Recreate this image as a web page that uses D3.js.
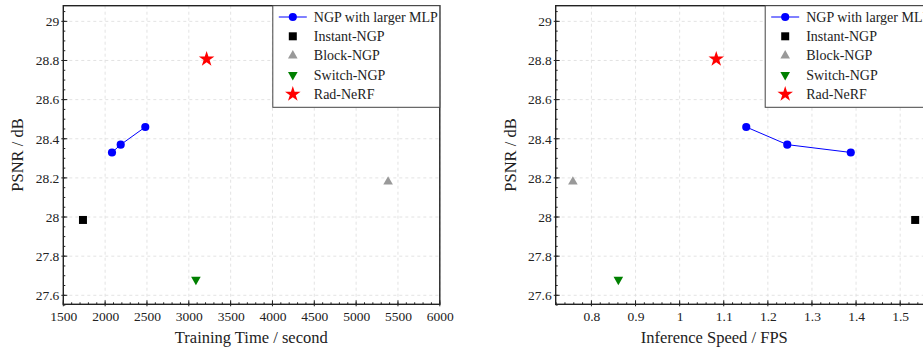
<!DOCTYPE html>
<html>
<head>
<meta charset="utf-8">
<script src="https://cdn.jsdelivr.net/npm/d3@7"></script>
<style>
  body { margin: 0; background: #fff; }
  svg text { font-family: "Liberation Serif", "Times New Roman", serif; }
</style>
</head>
<body>
<svg id="chart" width="923" height="347"></svg>
<script>
// data
const seriesNames = ["NGP with larger MLP", "Instant-NGP", "Block-NGP", "Switch-NGP", "Rad-NeRF"];
const mlpPsnr = [28.33, 28.37, 28.46];
const mlpTrainTime = [2082, 2186, 2480];
const mlpFps = [1.388, 1.244, 1.151];
const otherPsnr = [27.985, 28.18, 27.68, 28.807];        // instant, block, switch, rad
const otherTrainTime = [1735, 5382, 3085, 3213];
const otherFps = [1.534, 0.758, 0.861, 1.083];
const psnrTicks = [27.6, 27.8, 28, 28.2, 28.4, 28.6, 28.8, 29];
const timeTicks = [1500, 2000, 2500, 3000, 3500, 4000, 4500, 5000, 5500, 6000];
const fpsTicks = [0.8, 0.9, 1, 1.1, 1.2, 1.3, 1.4, 1.5];

const colors = ["#0000ff", "#000000", "#999999", "#008000", "#ff0000"];
const serif = "'Liberation Serif', 'Times New Roman', serif";

const svg = d3.select("#chart");

function symbolPath(i) {
  if (i === 1) return d3.symbol(d3.symbolSquare, 64)();
  if (i === 2) return d3.symbol(d3.symbolTriangle, 40)();
  if (i === 3) return d3.symbol(d3.symbolTriangle, 40)();
  if (i === 4) return d3.symbol(d3.symbolStar, 75)();
  return d3.symbol(d3.symbolCircle, 52)();
}
function symbolRot(i) { return i === 3 ? " rotate(180)" : ""; }

function drawPanel(cfg) {
  const w = 376.5, h = 298.6;
  const g = svg.append("g").attr("transform", `translate(${cfg.left},5.7)`);

  const x = d3.scaleLinear().domain(cfg.xDomain).range([0, w]);
  const y = d3.scaleLinear().domain([27.554, 29.08]).range([h, 0]);

  // grid
  g.append("g").selectAll("line").data(cfg.xTicks).join("line")
    .attr("x1", d => x(d)).attr("x2", d => x(d)).attr("y1", 0).attr("y2", h)
    .attr("stroke", "#dcdcdc").attr("stroke-dasharray", "3,3").attr("stroke-width", 0.8);
  g.append("g").selectAll("line").data(psnrTicks).join("line")
    .attr("y1", d => y(d)).attr("y2", d => y(d)).attr("x1", 0).attr("x2", w)
    .attr("stroke", "#dcdcdc").attr("stroke-dasharray", "3,3").attr("stroke-width", 0.8);

  // axes (major ticks crossing, minor inward)
  const xAxis = g.append("g").attr("transform", `translate(0,${h})`)
    .call(d3.axisBottom(x).tickValues(cfg.xTicks).tickSize(0).tickPadding(7).tickFormat(d3.format("")));
  const yAxis = g.append("g")
    .call(d3.axisLeft(y).tickValues(psnrTicks).tickSize(0).tickPadding(4).tickFormat(d3.format("")));
  [xAxis, yAxis].forEach(a => {
    a.attr("font-family", serif).attr("font-size", 13.5);
    a.select(".domain").remove();
    a.selectAll("text").attr("fill", "#222");
  });

  const xMinor = d3.range(cfg.xDomain[0], cfg.xDomain[1] + 1e-9, cfg.xMinorStep)
    .map(v => Math.round(v / cfg.xMinorStep) * cfg.xMinorStep)
    .filter(v => v >= cfg.xDomain[0] && v <= cfg.xDomain[1]);
  g.append("g").selectAll("line").data(xMinor).join("line")
    .attr("x1", d => x(d)).attr("x2", d => x(d)).attr("y1", h).attr("y2", h - 2)
    .attr("stroke", "#222");
  g.append("g").selectAll("line").data(cfg.xTicks).join("line")
    .attr("x1", d => x(d)).attr("x2", d => x(d)).attr("y1", h + 2).attr("y2", h - 4)
    .attr("stroke", "#222");
  const yMinor = d3.range(27.55, 29.08, 0.05).map(v => +v.toFixed(2));
  g.append("g").selectAll("line").data(yMinor).join("line")
    .attr("y1", d => y(d)).attr("y2", d => y(d)).attr("x1", 0).attr("x2", 2)
    .attr("stroke", "#222");
  g.append("g").selectAll("line").data(psnrTicks).join("line")
    .attr("y1", d => y(d)).attr("y2", d => y(d)).attr("x1", -2).attr("x2", 4)
    .attr("stroke", "#222");

  // frame
  g.append("rect").attr("width", w).attr("height", h)
    .attr("fill", "none").attr("stroke", "#222").attr("stroke-width", 1.4);

  // blue series
  const mlp = cfg.mlpX.map((v, i) => [v, mlpPsnr[i]]);
  g.append("path").datum(mlp)
    .attr("d", d3.line().x(d => x(d[0])).y(d => y(d[1])))
    .attr("fill", "none").attr("stroke", colors[0]).attr("stroke-width", 1);
  g.append("g").selectAll("path").data(mlp).join("path")
    .attr("d", symbolPath(0))
    .attr("transform", d => `translate(${x(d[0])},${y(d[1])})`)
    .attr("fill", colors[0]);

  // single-point methods
  cfg.otherX.forEach((v, i) => {
    g.append("path")
      .attr("d", symbolPath(i + 1))
      .attr("transform", `translate(${x(v)},${y(otherPsnr[i])})${symbolRot(i + 1)}`)
      .attr("fill", colors[i + 1]);
  });

  // legend
  const lw = 167, lh = 101.6;
  const lg = g.append("g").attr("transform", `translate(${w - lw},0)`);
  lg.append("rect").attr("width", lw).attr("height", lh)
    .attr("fill", "#fff").attr("stroke", "#444").attr("stroke-width", 1);
  seriesNames.forEach((name, i) => {
    const cy = 11.3 + i * 19.3;
    const row = lg.append("g").attr("transform", `translate(0,${cy})`);
    if (i === 0) {
      row.append("line").attr("x1", 6).attr("x2", 34)
        .attr("stroke", colors[0]).attr("stroke-width", 1);
    }
    row.append("path").attr("d", symbolPath(i))
      .attr("transform", `translate(20,0)${symbolRot(i)}`)
      .attr("fill", colors[i]);
    row.append("text").attr("x", 41).attr("y", 4.8)
      .attr("font-family", serif).attr("font-size", 14).attr("fill", "#222").text(name);
  });

  // axis titles
  svg.append("text")
    .attr("transform", `translate(${cfg.left - 40},155) rotate(-90)`)
    .attr("text-anchor", "middle").attr("font-family", serif).attr("font-size", 16.5).attr("fill", "#222")
    .text("PSNR / dB");
  svg.append("text")
    .attr("x", cfg.left + cfg.titleCx).attr("y", 343)
    .attr("text-anchor", "middle").attr("font-family", serif).attr("font-size", 16.5).attr("fill", "#222")
    .text(cfg.xTitle);
}

drawPanel({
  left: 63.3, xDomain: [1500, 6000], xTicks: timeTicks, xMinorStep: 100,
  mlpX: mlpTrainTime, otherX: otherTrainTime,
  xTitle: "Training Time / second", titleCx: 188
});
drawPanel({
  left: 555.7, xDomain: [0.719, 1.5726], xTicks: fpsTicks, xMinorStep: 0.02,
  mlpX: mlpFps, otherX: otherFps,
  xTitle: "Inference Speed / FPS", titleCx: 158.5
});
</script>
</body>
</html>
